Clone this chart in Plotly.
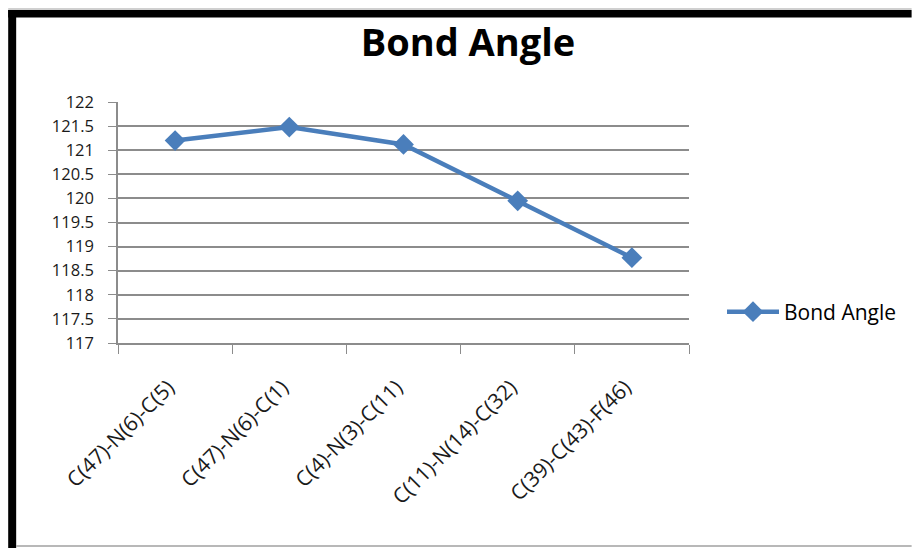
import plotly.graph_objects as go

# Bond angles (degrees) for selected atom triplets
angle_labels = ["C(47)-N(6)-C(5)", "C(47)-N(6)-C(1)", "C(4)-N(3)-C(11)",
                "C(11)-N(14)-C(32)", "C(39)-C(43)-F(46)"]
angle_values = [121.2, 121.48, 121.12, 119.95, 118.77]
y_ticks = [117, 117.5, 118, 118.5, 119, 119.5, 120, 120.5, 121, 121.5, 122]
y_tick_text = ["117", "117.5", "118", "118.5", "119", "119.5",
               "120", "120.5", "121", "121.5", "122"]

W, H = 913, 548
ML, MR, MT, MB = 118, 223, 102, 205
PW, PH = W - ML - MR, H - MT - MB

FONT = "'Open Sans', Lato, sans-serif"
BLUE = "#4a7ebb"
GRID = "#8c8c8c"


def px_x(x):
    return (x - ML) / PW


def px_y(y):
    return (H - MB - y) / PH


fig = go.Figure()
fig.add_trace(go.Scatter(
    x=angle_labels, y=angle_values, mode="lines+markers", name="Bond Angle",
    line=dict(color=BLUE, width=4.5),
    marker=dict(symbol="diamond", size=16, color=BLUE),
))

# Frame around the chart: heavy top and left edges, thin grey lines elsewhere
frame = [
    dict(type="rect", x0=px_x(8), x1=px_x(913), y0=px_y(10), y1=px_y(17.5),
         fillcolor="black", line_width=0),
    dict(type="rect", x0=px_x(8), x1=px_x(16), y0=px_y(10), y1=px_y(548),
         fillcolor="black", line_width=0),
    dict(type="line", x0=px_x(8), x1=px_x(913), y0=px_y(9), y1=px_y(9),
         line=dict(color="#a0a0a0", width=1)),
    dict(type="line", x0=px_x(16), x1=px_x(913), y0=px_y(546), y1=px_y(546),
         line=dict(color="#a0a0a0", width=1.5)),
]
for s in frame:
    s.update(xref="paper", yref="paper", layer="above")

fig.update_layout(
    width=W, height=H,
    margin=dict(l=ML, r=MR, t=MT, b=MB),
    paper_bgcolor="white", plot_bgcolor="white",
    font=dict(family=FONT, color="#1a1a1a", size=16),
    title=dict(text="<b>Bond Angle</b>", x=468 / W, xanchor="center",
               xref="container", y=1 - 43 / H, yanchor="middle",
               yref="container",
               font=dict(family=FONT, size=38, color="black")),
    showlegend=True,
    legend=dict(x=px_x(722), xanchor="left", y=px_y(312), yanchor="middle",
                font=dict(family=FONT, size=21, color="black"),
                bgcolor="rgba(0,0,0,0)", itemwidth=52),
    shapes=frame,
)

fig.update_xaxes(
    type="category", tickangle=-45, tickson="boundaries",
    ticks="outside", ticklen=9, tickcolor=GRID,
    showline=True, linecolor=GRID, linewidth=1.5,
    showgrid=False, ticklabelposition="outside",
    ticklabelstandoff=22, ticklabelshift=-7,
    tickfont=dict(family=FONT, size=21, color="#1a1a1a"),
    range=[-0.5, 4.5],
)
fig.update_yaxes(
    range=[117, 122], tickvals=y_ticks, ticktext=y_tick_text,
    ticks="outside", ticklen=8, tickcolor=GRID,
    showline=True, linecolor=GRID, linewidth=1.5,
    showgrid=True, gridcolor=GRID, gridwidth=1.5,
    zeroline=False, ticklabelposition="outside", ticklabelstandoff=11,
    tickfont=dict(family=FONT, size=16.5, color="#1a1a1a"),
)

fig.write_html("out.html")
